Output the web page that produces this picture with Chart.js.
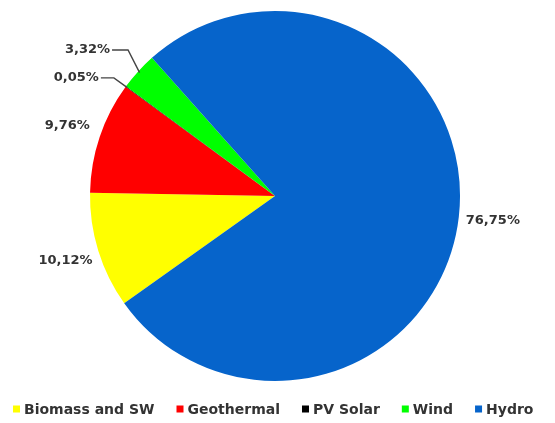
<!DOCTYPE html>
<html>
<head>
<meta charset="utf-8">
<script src="https://cdn.jsdelivr.net/npm/chart.js@4"></script>
<style>
html,body{margin:0;padding:0;background:#fff;}
canvas{display:block;}
</style>
</head>
<body>
<canvas id="c" width="555" height="423"></canvas>
<script>
const categories = ['Biomass and SW', 'Geothermal', 'PV Solar', 'Wind', 'Hydro'];
const shares = [10.12, 9.76, 0.05, 3.32, 76.75];
const percentLabels = ['10,12%', '9,76%', '0,05%', '3,32%', '76,75%'];
const sliceColors = ['#ffff00', '#ff0000', '#000000', '#00ff00', '#0664cb'];

const TEXT_COLOR = '#333333';
const LABEL_FONT = 'bold 13px "DejaVu Sans", sans-serif';
const LEGEND_FONT = 'bold 14px "DejaVu Sans", sans-serif';

// leader-line styling for the two tiny slices (index -> settings)
const leaders = {
  2: {radius: 1.08, turn: 0, run: 13},
  3: {radius: 1.12, turn: 2.5, run: 16}
};

const labelPlugin = {
  id: 'sliceLabels',
  afterDraw(chart) {
    const ctx = chart.ctx;
    const meta = chart.getDatasetMeta(0);
    ctx.save();
    ctx.font = LABEL_FONT;
    ctx.fillStyle = TEXT_COLOR;
    ctx.strokeStyle = '#444444';
    ctx.lineWidth = 1.4;
    ctx.textBaseline = 'middle';
    meta.data.forEach((arc, i) => {
      const p = arc.getProps(['x', 'y', 'startAngle', 'endAngle', 'outerRadius'], true);
      const mid = (p.startAngle + p.endAngle) / 2;
      const R = p.outerRadius;
      const ld = leaders[i];
      if (ld) {
        const sx = p.x + Math.cos(mid) * R * 0.99;
        const sy = p.y + Math.sin(mid) * R * 0.99;
        const ea = mid + ld.turn * Math.PI / 180;
        const ex = p.x + Math.cos(ea) * R * ld.radius;
        const ey = p.y + Math.sin(ea) * R * ld.radius;
        ctx.beginPath();
        ctx.moveTo(sx, sy);
        ctx.lineTo(ex, ey);
        ctx.lineTo(ex - ld.run, ey);
        ctx.stroke();
        ctx.textAlign = 'right';
        ctx.fillText(percentLabels[i], ex - ld.run - 2, ey);
      } else {
        const lx = p.x + Math.cos(mid) * R * 1.185;
        const ly = p.y + Math.sin(mid) * R * 1.185;
        ctx.textAlign = 'center';
        ctx.fillText(percentLabels[i], lx, ly);
      }
    });
    ctx.restore();
  }
};

const legendPlugin = {
  id: 'bottomLegend',
  afterDraw(chart) {
    const ctx = chart.ctx;
    ctx.save();
    ctx.font = LEGEND_FONT;
    ctx.textBaseline = 'middle';
    ctx.textAlign = 'left';
    const y = 409;
    const box = 7;
    let x = 13;
    categories.forEach((name, i) => {
      ctx.fillStyle = sliceColors[i];
      ctx.fillRect(x, y - box / 2, box, box);
      ctx.fillStyle = TEXT_COLOR;
      ctx.fillText(name, x + 11, y + 1);
      x += 11 + ctx.measureText(name).width + 22;
    });
    ctx.restore();
  }
};

new Chart(document.getElementById('c'), {
  type: 'pie',
  data: {
    labels: categories,
    datasets: [{
      data: shares,
      backgroundColor: sliceColors,
      borderWidth: 0,
      hoverOffset: 0
    }]
  },
  options: {
    responsive: false,
    devicePixelRatio: 1,
    animation: false,
    rotation: 234.6,
    layout: {padding: {top: 11, bottom: 42, left: 0, right: 5}},
    plugins: {
      legend: {display: false},
      tooltip: {enabled: false}
    }
  },
  plugins: [labelPlugin, legendPlugin]
});
</script>
</body>
</html>
